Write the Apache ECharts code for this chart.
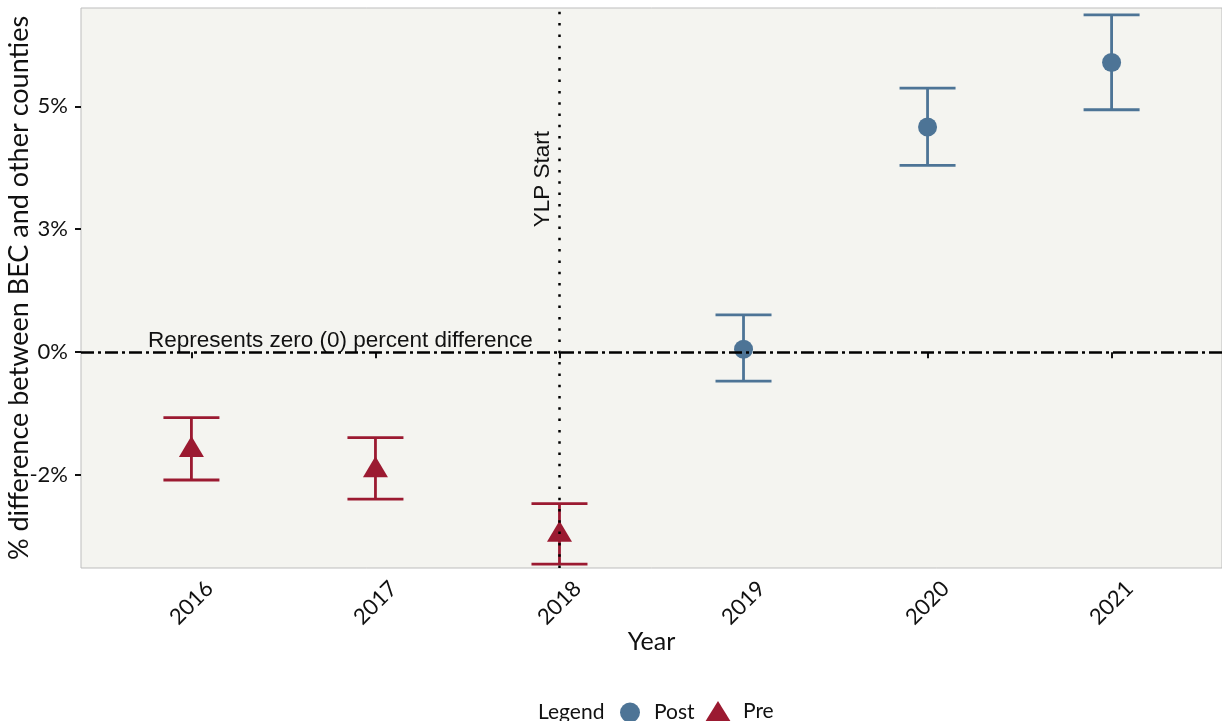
<!DOCTYPE html>
<html>
<head>
<meta charset="utf-8">
<script src="https://cdn.jsdelivr.net/npm/echarts@6/dist/echarts.min.js"></script>
<style>
  html, body { margin: 0; padding: 0; background: #ffffff; }
  #chart { width: 1222px; height: 721px; }
</style>
</head>
<body>
<div id="chart"></div>
<script>
// Yearly estimates (% difference) with confidence bounds
const years    = [2016, 2017, 2018, 2019, 2020, 2021];
const estimate = [-1.92, -2.33, -3.64, 0.06, 4.58, 5.89];
const lower    = [-2.60, -2.99, -4.31, -0.59, 3.80, 4.93];
const upper    = [-1.33, -1.74, -3.08, 0.76, 5.37, 6.86];
const period   = ['Pre', 'Pre', 'Pre', 'Post', 'Post', 'Post'];

// Axis ticks and labels
const yTickValues = [-2.5, 0, 2.5, 5];
const yTickLabels = ['-2%', '0%', '3%', '5%'];
const xTickValues = years;

// Reference lines and their notes
const programStartYear = 2018;
const zeroLevel = 0;
const startNote = 'YLP Start';
const zeroNote = 'Represents zero (0) percent difference';

const colors = { Post: '#4d7496', Pre: '#9b1a31' };
const symbols = { Post: 'circle', Pre: 'triangle' };

function pointsFor(p) {
  const out = [];
  years.forEach((y, i) => { if (period[i] === p) out.push([y, estimate[i]]); });
  return out;
}

const barData = years.map((y, i) => [y, lower[i], upper[i], period[i] === 'Post' ? 0 : 1]);

const chart = echarts.init(document.getElementById('chart'));

const axisFont = 'Lato, "Noto Sans", sans-serif';
const noteFont = '"Liberation Sans", Arial, sans-serif';
const ink = '#111111';
const legendText = { fontFamily: axisFont, fontSize: 21, color: ink };

chart.setOption({
  animation: false,
  backgroundColor: '#ffffff',
  grid: {
    left: 81, right: 0, top: 8, bottom: 153,
    containLabel: false, outerBoundsMode: 'none',
    show: true, backgroundColor: '#f4f4f0', borderColor: '#bdbdbd', borderWidth: 1
  },
  title: {
    text: 'Legend',
    left: 533, top: 697,
    textStyle: Object.assign({ fontWeight: 'normal' }, legendText)
  },
  legend: [
    {
      left: 615, top: 697,
      itemWidth: 20, itemHeight: 20,
      textStyle: Object.assign({ padding: [0, 0, 0, 9] }, legendText),
      data: [{ name: 'Post', icon: 'circle', itemStyle: { color: colors.Post } }],
      selectedMode: false
    },
    {
      left: 700, top: 696,
      itemWidth: 26, itemHeight: 21, symbolKeepAspect: false,
      textStyle: Object.assign({ padding: [0, 0, 0, 7] }, legendText),
      data: [{ name: 'Pre', icon: 'triangle', itemStyle: { color: colors.Pre } }],
      selectedMode: false
    }
  ],
  xAxis: {
    type: 'value',
    min: 2015.4, max: 2021.6,
    name: 'Year', nameLocation: 'middle', nameGap: 61, nameMoveOverlap: false,
    nameTextStyle: { fontFamily: axisFont, fontSize: 25, color: ink },
    axisLine: { show: false },
    splitLine: { show: false },
    axisTick: { show: true, customValues: xTickValues, length: 6, lineStyle: { color: ink, width: 2 } },
    axisLabel: {
      customValues: xTickValues, rotate: 45, margin: 35,
      align: 'center', verticalAlign: 'middle',
      fontFamily: axisFont, fontSize: 22, color: ink,
      formatter: v => String(Math.round(v))
    }
  },
  yAxis: {
    type: 'value',
    min: -4.39, max: 7.0,
    name: '% difference between BEC and other counties',
    nameLocation: 'middle', nameGap: 48, nameMoveOverlap: false,
    nameTextStyle: { fontFamily: axisFont, fontSize: 27, color: ink },
    axisLine: { show: false },
    splitLine: { show: false },
    axisTick: { show: true, customValues: yTickValues, length: 6, lineStyle: { color: ink, width: 2 } },
    axisLabel: {
      customValues: yTickValues, margin: 13,
      fontFamily: axisFont, fontSize: 22, color: ink,
      formatter: v => {
        const idx = yTickValues.findIndex(t => Math.abs(t - v) < 1e-6);
        return idx >= 0 ? yTickLabels[idx] : '';
      }
    }
  },
  series: [
    {
      // reference lines
      type: 'line', data: [], silent: true,
      markLine: {
        symbol: 'none', silent: true, animation: false,
        label: { show: false },
        data: [
          { yAxis: zeroLevel, lineStyle: { color: '#000', width: 2.5, type: [13, 4, 3, 4] } },
          { xAxis: programStartYear, lineStyle: { color: '#000', width: 2.5, type: [2.5, 8.8] } }
        ]
      },
      z: 1
    },
    {
      // error bars
      type: 'custom', name: 'bounds', silent: true,
      data: barData,
      renderItem: (params, api) => {
        const x = api.value(0);
        const lo = api.coord([x, api.value(1)]);
        const hi = api.coord([x, api.value(2)]);
        const c = api.value(3) === 0 ? colors.Post : colors.Pre;
        const half = 28;
        const st = { stroke: c, lineWidth: 2.8 };
        return {
          type: 'group',
          children: [
            { type: 'line', shape: { x1: lo[0], y1: lo[1], x2: hi[0], y2: hi[1] }, style: st },
            { type: 'line', shape: { x1: lo[0] - half, y1: lo[1], x2: lo[0] + half, y2: lo[1] }, style: st },
            { type: 'line', shape: { x1: hi[0] - half, y1: hi[1], x2: hi[0] + half, y2: hi[1] }, style: st }
          ]
        };
      },
      z: 2
    },
    {
      name: 'Post', type: 'scatter', data: pointsFor('Post'),
      symbol: symbols.Post, symbolSize: 19,
      itemStyle: { color: colors.Post, opacity: 1 }, z: 3
    },
    {
      name: 'Pre', type: 'scatter', data: pointsFor('Pre'),
      symbol: symbols.Pre, symbolSize: [25, 21],
      itemStyle: { color: colors.Pre, opacity: 1 }, z: 3
    },
    {
      // notes beside the reference lines
      type: 'scatter', silent: true, symbolSize: 0,
      itemStyle: { opacity: 1 },
      data: [
        { value: [2017.91, 3.52], label: { formatter: startNote, rotate: 90 } },
        { value: [2016.81, 0.23], label: { formatter: zeroNote } }
      ],
      label: {
        show: true, position: 'inside',
        fontFamily: noteFont, fontSize: 22.5, color: ink, opacity: 1
      },
      z: 4
    }
  ]
});
</script>
</body>
</html>
